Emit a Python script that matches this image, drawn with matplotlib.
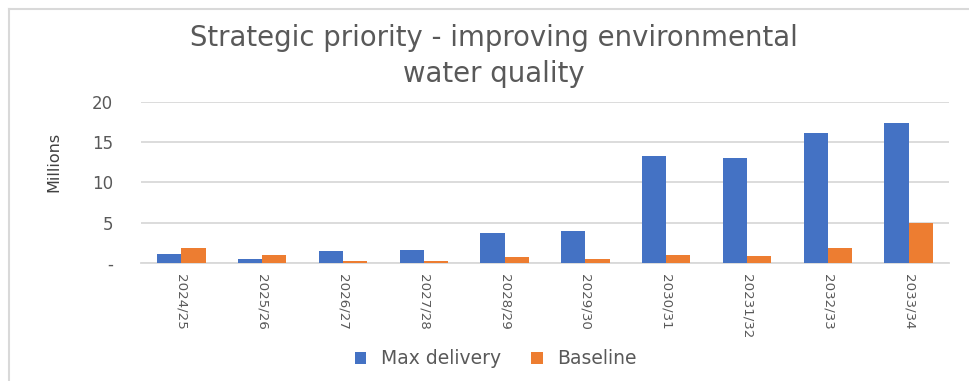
import matplotlib
matplotlib.use("Agg")
import matplotlib.pyplot as plt
from matplotlib.lines import Line2D
from matplotlib.patches import Patch
import numpy as np

# Financial years and the two funding scenarios (in millions)
years = ["2024/25", "2025/26", "2026/27", "2027/28", "2028/29",
         "2029/30", "2030/31", "20231/32", "2032/33", "2033/34"]
max_delivery = [1.08, 0.46, 1.42, 1.54, 3.66, 3.95, 13.3, 13.03, 16.19, 17.43]
baseline = [1.87, 0.92, 0.20, 0.20, 0.71, 0.42, 0.96, 0.83, 1.87, 4.94]
y_ticks = [0, 5, 10, 15, 20]
y_tick_labels = ["-", "5", "10", "15", "20"]

BLUE = "#4472C4"
ORANGE = "#ED7D31"
TEXT = "#595959"
GRID = "#d9d9d9"

plt.rcParams["font.family"] = ["DejaVu Sans"]

W, H = 969, 381
fig = plt.figure(figsize=(W / 100, H / 100), dpi=100)
fig.patch.set_facecolor("white")

ax = fig.add_axes([141 / W, 1 - 262.7 / H, (949 - 141) / W, (262.7 - 102) / H])

x = np.arange(len(years))
bw = 0.3
ax.bar(x - bw / 2, max_delivery, width=bw, color=BLUE, zorder=3)
ax.bar(x + bw / 2, baseline, width=bw, color=ORANGE, zorder=3)

ax.set_xlim(-0.5, len(years) - 0.5)
ax.set_ylim(0, 20)
ax.set_yticks(y_ticks)
ax.set_yticklabels(y_tick_labels, fontsize=12, color=TEXT)
ax.set_xticks(x)
ax.set_xticklabels(years, rotation=-90, fontsize=9.6, color=TEXT)
ax.tick_params(axis="both", length=0)
ax.tick_params(axis="y", pad=20)
ax.tick_params(axis="x", pad=8)

ax.grid(axis="y", color=GRID, linewidth=1.3, zorder=0)
for side in ["top", "right", "left"]:
    ax.spines[side].set_visible(False)
ax.spines["bottom"].set_color(GRID)
ax.spines["bottom"].set_linewidth(1.3)

ax.set_ylabel("Millions", fontsize=11.5, color="#404040")
ax.yaxis.set_label_coords((61 - 141) / 808, (262.7 - 162) / 160.7)

fig.text(494 / W, 1 - 56 / H,
         "Strategic priority - improving environmental\nwater quality",
         ha="center", va="center", fontsize=19.8, color=TEXT, linespacing=1.4)

handles = [Patch(facecolor=BLUE, label="Max delivery"),
           Patch(facecolor=ORANGE, label="Baseline")]
fig.legend(handles=handles, loc="center", bbox_to_anchor=(496 / W, 1 - 359 / H),
           ncol=2, frameon=False, fontsize=13.5, labelcolor=TEXT,
           handlelength=0.6, handleheight=0.6, handletextpad=0.8, columnspacing=1.6)

# Chart area border
fig.add_artist(Line2D([9 / W, 9 / W], [0, 1 - 9 / H], transform=fig.transFigure,
                      color=GRID, linewidth=1.5))
fig.add_artist(Line2D([9 / W, 1], [1 - 9 / H, 1 - 9 / H], transform=fig.transFigure,
                      color=GRID, linewidth=1.5))

fig.savefig("out.png", dpi=100, facecolor="white")
